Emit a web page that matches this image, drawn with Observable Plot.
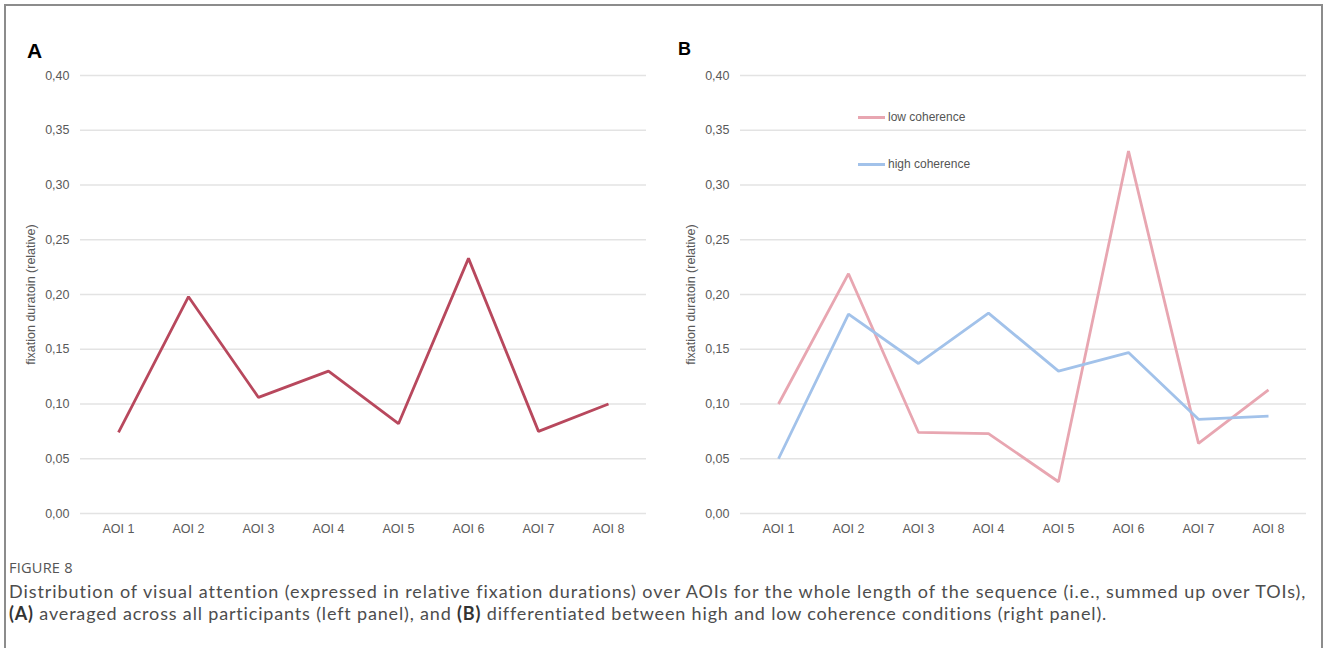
<!DOCTYPE html>
<html>
<head>
<meta charset="utf-8">
<script src="https://cdn.jsdelivr.net/npm/d3@7"></script>
<script src="https://cdn.jsdelivr.net/npm/@observablehq/plot@0.6"></script>
<style>
  html, body { margin: 0; padding: 0; background: #fff; }
  body { width: 1328px; height: 648px; position: relative; overflow: hidden; font-family: "Liberation Sans", Arial, sans-serif; }
  .frame { position: absolute; left: 4px; top: 4px; width: 1319px; height: 700px; border: 2px solid #8c8c8c; box-sizing: border-box; }
  .panel { position: absolute; top: 40px; }
  .tag { position: absolute; font-family: "Liberation Sans", Arial, sans-serif; font-weight: bold; color: #000; line-height: 1; }
  .legend { position: absolute; font: 12px "Liberation Sans", Arial, sans-serif; color: #555; display: flex; align-items: center; white-space: nowrap; }
  .legend span.sw { display: inline-block; width: 27px; height: 3px; margin-right: 3px; }
  .cap-head { position: absolute; left: 9px; top: 558px; font: 14.6px/18px "Open Sans", sans-serif; color: #555; letter-spacing: 0.2px; }
  .cap { position: absolute; left: 9px; font: 18px/20px Lato, "Open Sans", sans-serif; color: #4d4d4d; white-space: nowrap; }
  .cap b { color: #333; font-weight: 700; }
</style>
</head>
<body>
<div class="frame"></div>
<div class="tag" style="left:27px; top:40px; font-size:21px;">A</div>
<div class="tag" style="left:678px; top:40px; font-size:18px;">B</div>
<div id="pa" class="panel" style="left:0px;"></div>
<div id="pb" class="panel" style="left:660px;"></div>
<div id="legend"></div>
<div class="cap-head">FIGURE 8</div>
<div class="cap" id="cap1" data-w="1298" style="top:581px;">Distribution of visual attention (expressed in relative fixation durations) over AOIs for the whole length of the sequence (i.e., summed up over TOIs),</div>
<div class="cap" id="cap2" data-w="1098" style="top:603px;"><b>(A)</b> averaged across all participants (left panel), and <b>(B)</b> differentiated between high and low coherence conditions (right panel).</div>
<script>
// ---- data ----
const aois = ["AOI 1", "AOI 2", "AOI 3", "AOI 4", "AOI 5", "AOI 6", "AOI 7", "AOI 8"];
const allParticipants = [0.074, 0.198, 0.106, 0.130, 0.082, 0.233, 0.075, 0.100];
const lowCoherence = [0.100, 0.219, 0.074, 0.073, 0.029, 0.331, 0.064, 0.113];
const highCoherence = [0.050, 0.182, 0.137, 0.183, 0.130, 0.147, 0.086, 0.089];
const seriesNames = ["low coherence", "high coherence"];
const yTicks = [0, 0.05, 0.10, 0.15, 0.20, 0.25, 0.30, 0.35, 0.40];
const yLabel = "fixation duratoin (relative)";

// ---- styles ----
const colA = "#b8485d";
const colLow = "#e8a6b1";
const colHigh = "#a2c2ea";
const fmt = d => d3.format(".2f")(d).replace(".", ",");

function panel(series) {
  const rows = [];
  series.forEach(s => s.values.forEach((v, i) => rows.push({aoi: aois[i], v, name: s.name})));
  return Plot.plot({
    width: 660,
    height: 520,
    marginLeft: 80,
    marginRight: 14,
    marginTop: 35,
    marginBottom: 47,
    style: {fontFamily: "'Liberation Sans', Arial, sans-serif", fontSize: "12.5px", color: "#595959", background: "transparent"},
    x: {type: "point", domain: aois, padding: 0.5},
    y: {domain: [0, 0.4]},
    marks: [
      Plot.gridY(yTicks, {stroke: "#e3e3e3", strokeOpacity: 1, strokeWidth: 1.5}),
      Plot.axisX({tickSize: 0, tickPadding: 11, label: null, fill: "#595959"}),
      Plot.axisY(yTicks, {tickSize: 0, tickPadding: 11, tickFormat: fmt, fill: "#595959",
        label: yLabel, labelAnchor: "center", labelArrow: "none", labelOffset: 54}),
      Plot.line(rows, {x: "aoi", y: "v", z: "name", stroke: "name", strokeWidth: 2.8, strokeLinejoin: "miter", strokeLinecap: "butt"})
    ],
    color: {domain: series.map(s => s.name), range: series.map(s => s.color)}
  });
}

document.getElementById("pa").append(panel([{name: "all", values: allParticipants, color: colA}]));
document.getElementById("pb").append(panel([
  {name: seriesNames[0], values: lowCoherence, color: colLow},
  {name: seriesNames[1], values: highCoherence, color: colHigh}
]));

// legend (right panel)
const leg = document.getElementById("legend");
[[seriesNames[0], colLow, 110], [seriesNames[1], colHigh, 157]].forEach(([name, c, top]) => {
  const d = document.createElement("div");
  d.className = "legend";
  d.style.left = "858px";
  d.style.top = top + "px";
  d.innerHTML = `<span class="sw" style="background:${c}"></span>${name}`;
  leg.append(d);
});

// fit caption lines to the reference line widths via letter-spacing
function fitCaption() {
  ["cap1", "cap2"].forEach(id => {
    const el = document.getElementById(id);
    el.style.letterSpacing = "0px";
    const natural = el.getBoundingClientRect().width;
    const n = el.textContent.length;
    const target = +el.dataset.w;
    el.style.letterSpacing = ((target - natural) / n).toFixed(3) + "px";
  });
}
fitCaption();
if (document.fonts && document.fonts.ready) document.fonts.ready.then(fitCaption);
</script>
</body>
</html>
